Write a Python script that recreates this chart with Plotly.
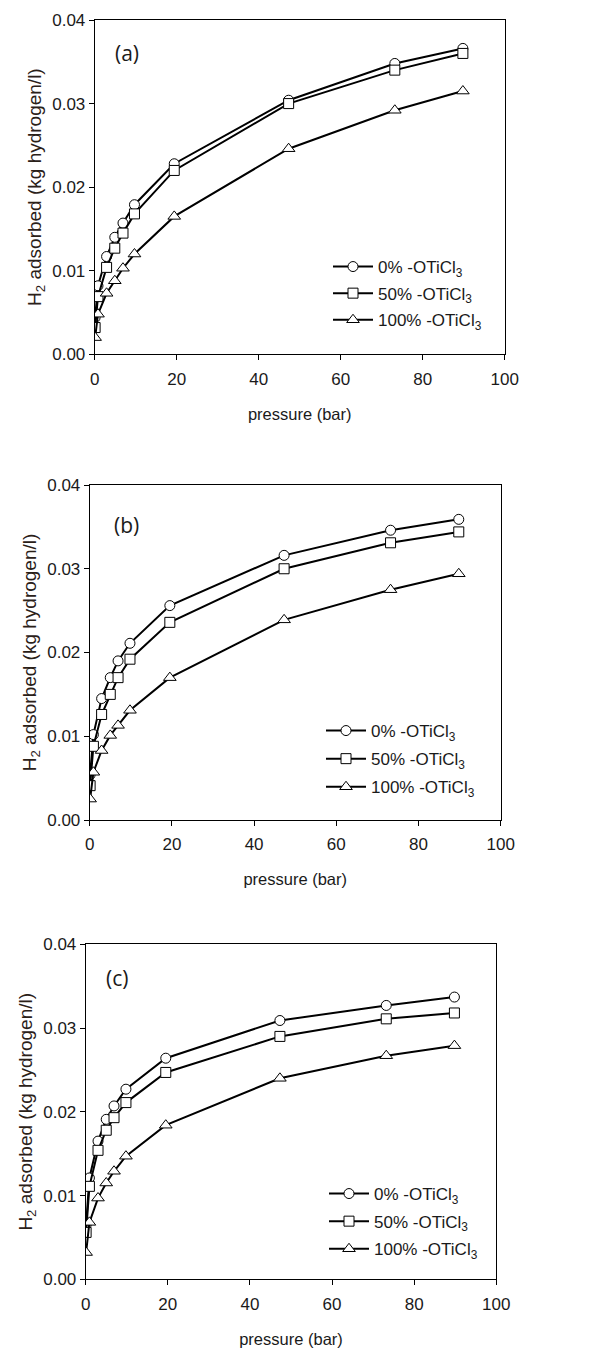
import plotly.graph_objects as go

# ---- data ----
pressure_a = [0.1, 0.8, 2.9, 4.9, 6.9, 9.7, 19.4, 47.3, 73.2, 89.8]
a_0 = [0.0044, 0.0082, 0.0117, 0.0140, 0.0157, 0.0179, 0.0228, 0.0304, 0.0348, 0.0366]
a_50 = [0.0032, 0.0069, 0.0104, 0.0127, 0.0145, 0.0168, 0.0220, 0.0300, 0.0340, 0.0360]
a_100 = [0.0020, 0.0048, 0.0073, 0.0088, 0.0103, 0.0120, 0.0165, 0.0246, 0.0292, 0.0315]

pressure_b = [0.1, 0.9, 2.9, 5.0, 6.9, 9.8, 19.5, 47.3, 73.2, 89.8]
b_0 = [0.0054, 0.0102, 0.0145, 0.0170, 0.0190, 0.0211, 0.0256, 0.0316, 0.0346, 0.0359]
b_50 = [0.0041, 0.0088, 0.0126, 0.0150, 0.0170, 0.0192, 0.0236, 0.0300, 0.0331, 0.0344]
b_100 = [0.0025, 0.0057, 0.0083, 0.0101, 0.0113, 0.0131, 0.0170, 0.0239, 0.0275, 0.0294]

pressure_c = [0.1, 0.9, 3.0, 5.0, 6.9, 9.8, 19.5, 47.3, 73.2, 89.8]
c_0 = [0.0065, 0.0121, 0.0165, 0.0191, 0.0207, 0.0227, 0.0264, 0.0309, 0.0327, 0.0337]
c_50 = [0.0056, 0.0111, 0.0154, 0.0178, 0.0193, 0.0211, 0.0247, 0.0290, 0.0311, 0.0318]
c_100 = [0.0032, 0.0068, 0.0097, 0.0115, 0.0129, 0.0147, 0.0184, 0.0240, 0.0267, 0.0279]

series_names = ["0% -OTiCl<sub>3</sub>", "50% -OTiCl<sub>3</sub>", "100% -OTiCl<sub>3</sub>"]
symbols = ["circle", "square", "triangle-up"]
marker_sizes = [10, 10, 11]
panel_labels = ["(a)", "(b)", "(c)"]
x_ticks = [0, 20, 40, 60, 80, 100]
y_ticks = [0.00, 0.01, 0.02, 0.03, 0.04]

panels = [
    (pressure_a, [a_0, a_50, a_100]),
    (pressure_b, [b_0, b_50, b_100]),
    (pressure_c, [c_0, c_50, c_100]),
]

W, H = 608, 1351
# plot area pixel boxes (left, right, top, bottom)
boxes = [
    (94.7, 504.7, 20.0, 354.3),
    (89.7, 500.7, 485.0, 820.0),
    (85.7, 496.3, 944.3, 1279.3),
]
legend_pos = [(328, 249), (321, 713), (324, 1176)]
legend_gap = [1.5, 3.0, 2.5]
label_pos = [(126.7, 53.3), (126.0, 525.0), (116.7, 978.3)]

fig = go.Figure()
TEXT = "#1a1a1a"
FONT = "Liberation Sans, Arial, sans-serif"

for i, (px, ys) in enumerate(panels):
    xa = "x" if i == 0 else f"x{i+1}"
    ya = "y" if i == 0 else f"y{i+1}"
    lg = "legend" if i == 0 else f"legend{i+1}"
    for j, yv in enumerate(ys):
        fig.add_trace(go.Scatter(
            x=px, y=yv, name=series_names[j], mode="lines+markers",
            xaxis=xa, yaxis=ya, legend=lg, legendgroup=f"p{i}s{j}",
            line=dict(color="black", width=2),
            marker=dict(symbol=symbols[j], size=marker_sizes[j],
                        color="white", line=dict(color="black", width=1)),
        ))
    l, r, t, b = boxes[i]
    xd = [l / W, r / W]
    yd = [1 - b / H, 1 - t / H]
    axis_common = dict(showline=True, linecolor="black", linewidth=1, mirror=True,
                       ticks="outside", ticklen=5, tickcolor="black",
                       showgrid=False, zeroline=False, automargin=False,
                       tickfont=dict(family=FONT, size=17, color=TEXT))
    fig.update_layout(**{
        ("xaxis" if i == 0 else f"xaxis{i+1}"): dict(
            domain=xd, range=[0, 100], tickvals=x_ticks, anchor=ya, ticklabelstandoff=4,
            title=dict(text="pressure (bar)", font=dict(family=FONT, size=16.5, color=TEXT), standoff=20),
            **axis_common),
        ("yaxis" if i == 0 else f"yaxis{i+1}"): dict(
            domain=yd, range=[0, 0.04], tickvals=y_ticks, tickformat=".2f", anchor=xa,
            title=dict(text="H<sub>2</sub> adsorbed (kg hydrogen/l)", font=dict(family=FONT, size=19, color="#2a2018"), standoff=5),
            **axis_common),
        lg: dict(x=legend_pos[i][0] / W, y=1 - legend_pos[i][1] / H, xanchor="left", yanchor="top",
                 bgcolor="rgba(0,0,0,0)", font=dict(family=FONT, size=17, color=TEXT),
                 tracegroupgap=legend_gap[i], itemwidth=40),
    })
    fig.add_annotation(x=label_pos[i][0] / W, y=1 - label_pos[i][1] / H, xref="paper", yref="paper",
                       text=panel_labels[i], showarrow=False, xanchor="center", yanchor="middle",
                       font=dict(family="Open Sans, sans-serif", size=21, color=TEXT))

fig.update_layout(width=W, height=H, margin=dict(l=0, r=0, t=0, b=0),
                  paper_bgcolor="white", plot_bgcolor="white", showlegend=True)

fig.write_html("out.html")
